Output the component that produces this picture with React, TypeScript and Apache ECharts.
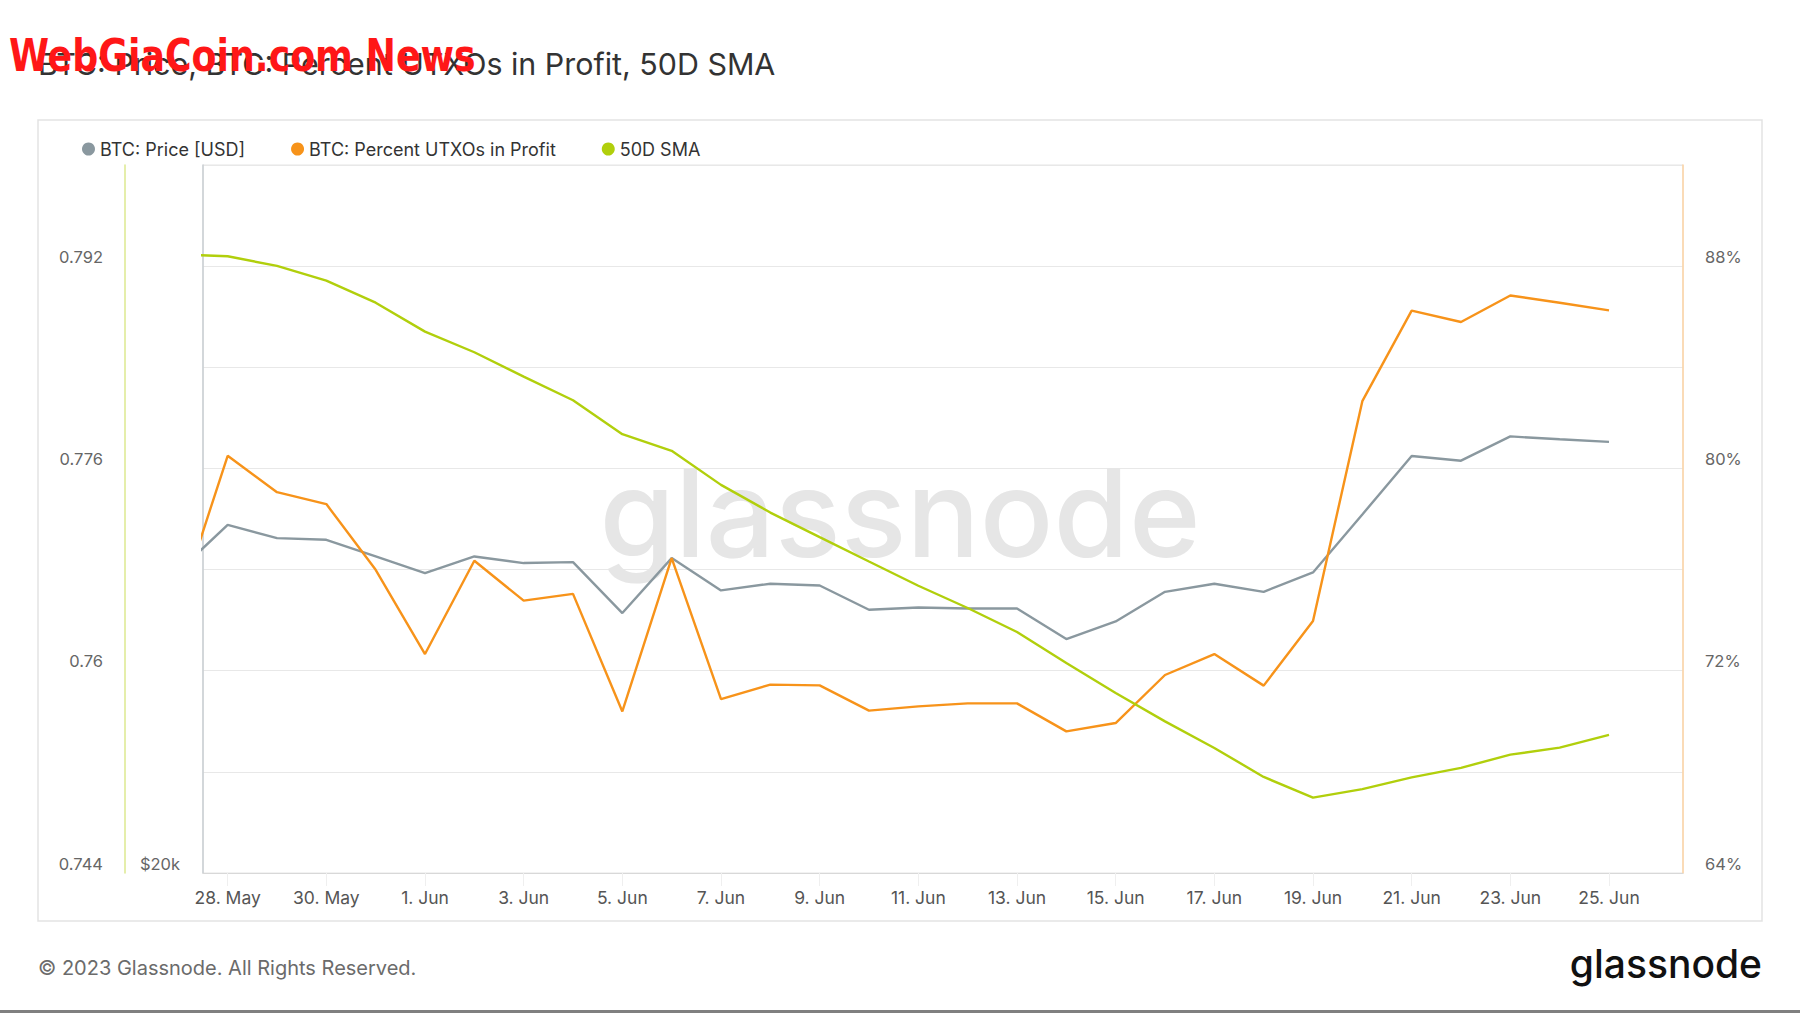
import React, { useEffect, useRef } from 'react';
import * as echarts from 'echarts';

// ---- data ----
const dates = [
  '2023-05-27', '2023-05-28', '2023-05-29', '2023-05-30', '2023-05-31',
  '2023-06-01', '2023-06-02', '2023-06-03', '2023-06-04', '2023-06-05',
  '2023-06-06', '2023-06-07', '2023-06-08', '2023-06-09', '2023-06-10',
  '2023-06-11', '2023-06-12', '2023-06-13', '2023-06-14', '2023-06-15',
  '2023-06-16', '2023-06-17', '2023-06-18', '2023-06-19', '2023-06-20',
  '2023-06-21', '2023-06-22', '2023-06-23', '2023-06-24', '2023-06-25',
];

const priceUsd = [
  26870, 28124, 27760, 27714, 27266,
  26826, 27266, 27090, 27116, 25796,
  27222, 26374, 26548, 26502, 25880,
  25938, 25912, 25912, 25148, 25586,
  26338, 26548, 26338, 26842, 28410,
  30082, 29946, 30666, 30580, 30504,
];

const percentInProfit = [
  74.52, 80.5, 79.06, 78.59, 75.99,
  72.66, 76.35, 74.77, 75.04, 70.39,
  76.45, 70.88, 71.45, 71.42, 70.42,
  70.59, 70.71, 70.71, 69.6, 69.93,
  71.83, 72.66, 71.41, 73.97, 82.66,
  86.24, 85.79, 86.84, 86.55, 86.25,
];

const sma50d = [
  0.79294, 0.79278, 0.79202, 0.79085, 0.78911,
  0.78682, 0.78519, 0.78326, 0.78139, 0.77871,
  0.77739, 0.7747, 0.77251, 0.77057, 0.76864,
  0.76672, 0.76496, 0.76306, 0.76061, 0.75824,
  0.75599, 0.75389, 0.7516, 0.74996, 0.75063,
  0.75156, 0.75232, 0.75336, 0.75392, 0.75493,
];

const xLabelDates = [
  '2023-05-28', '2023-05-30', '2023-06-01', '2023-06-03', '2023-06-05',
  '2023-06-07', '2023-06-09', '2023-06-11', '2023-06-13', '2023-06-15',
  '2023-06-17', '2023-06-19', '2023-06-21', '2023-06-23', '2023-06-25',
];
const xRange = ['2023-05-27T12:00:00Z', '2023-06-26T12:00:00Z'];
const monthNames = ['Jan', 'Feb', 'Mar', 'Apr', 'May', 'Jun', 'Jul', 'Aug', 'Sep', 'Oct', 'Nov', 'Dec'];

const seriesNames = ['BTC: Price [USD]', 'BTC: Percent UTXOs in Profit', '50D SMA'];
const seriesColors = ['#8a989f', '#f7931a', '#b1cf0c'];

const pctAxis = { min: 64, max: 92, step: 4, labelStep: 8 };
const smaAxis = { min: 0.744, max: 0.8, step: 0.008, labelStep: 0.016 };
const priceAxis = { min: 20000, max: 40000, label: '$20k' };

const titleText = 'BTC: Price, BTC: Percent UTXOs in Profit, 50D SMA';
const overlayText = 'WebGiaCoin.com News';
const footerText = '\u00A9 2023 Glassnode. All Rights Reserved.';
const brandText = 'glassnode';

const toTs = (d: string) => new Date(d.length > 10 ? d : d + 'T00:00:00Z').getTime();

const FONT = 'Inter, "Noto Sans", sans-serif';

export default function App() {
  const ref = useRef<HTMLDivElement>(null);

  useEffect(() => {
    document.body.style.margin = '0';
    if (!ref.current) return;
    const chart = echarts.init(ref.current, undefined, { renderer: 'svg' });

    const xs = dates.map(toTs);
    const labelTs = xLabelDates.map(toTs);

    const yLabelBase = {
      fontFamily: FONT,
      fontSize: 16.5,
      color: '#666666',
      verticalAlign: 'bottom',
      padding: [0, 0, 1, 0],
    };

    const option: any = {
      animation: false,
      backgroundColor: '#ffffff',
      textStyle: { fontFamily: FONT },
      legend: {
        left: 77,
        top: 135,
        icon: 'circle',
        itemWidth: 13,
        itemHeight: 13,
        itemGap: 46,
        textStyle: { fontFamily: FONT, fontSize: 18, color: '#333333' },
        data: seriesNames,
      },
      grid: {
        left: 203,
        right: 117,
        top: 165,
        bottom: 140,
        show: true,
        borderColor: '#e4e4e4',
        borderWidth: 1,
      },
      xAxis: {
        type: 'value',
        min: toTs(xRange[0]),
        max: toTs(xRange[1]),
        axisLine: { show: true, lineStyle: { color: '#d8d8d8', width: 1 } },
        axisTick: {
          show: true,
          customValues: labelTs,
          length: 13,
          lineStyle: { color: '#efefef' },
        },
        splitLine: { show: false },
        axisLabel: {
          customValues: labelTs,
          margin: 15,
          fontFamily: FONT,
          fontSize: 17.5,
          color: '#555555',
          formatter: (v: number) => {
            const d = new Date(v);
            return `${d.getUTCDate()}. ${monthNames[d.getUTCMonth()]}`;
          },
        },
      },
      yAxis: [
        {
          type: 'value',
          position: 'right',
          min: pctAxis.min,
          max: pctAxis.max,
          interval: pctAxis.step,
          axisLine: { show: true, lineStyle: { color: '#fdd3a3', width: 1.5 } },
          axisTick: { show: false },
          splitLine: { show: true, lineStyle: { color: '#e8e8e8', width: 1 } },
          axisLabel: {
            ...yLabelBase,
            margin: 22,
            formatter: (v: number) =>
              Math.round(v - pctAxis.min) % pctAxis.labelStep === 0 ? `${v}%` : '',
          },
        },
        {
          type: 'value',
          position: 'left',
          offset: 78,
          min: smaAxis.min,
          max: smaAxis.max,
          interval: smaAxis.step,
          axisLine: { show: true, lineStyle: { color: '#dde88f', width: 1.5 } },
          axisTick: { show: false },
          splitLine: { show: false },
          axisLabel: {
            ...yLabelBase,
            margin: 22,
            formatter: (v: number) => {
              const k = Math.round((v - smaAxis.min) / smaAxis.step);
              return k % Math.round(smaAxis.labelStep / smaAxis.step) === 0
                ? String(Number(v.toFixed(3)))
                : '';
            },
          },
        },
        {
          type: 'log',
          position: 'left',
          offset: 0,
          min: priceAxis.min,
          max: priceAxis.max,
          axisLine: { show: true, lineStyle: { color: '#c8ced2', width: 1.5 } },
          axisTick: { show: false },
          splitLine: { show: false },
          axisLabel: {
            ...yLabelBase,
            margin: 23,
            showMinLabel: true,
            showMaxLabel: false,
            formatter: (v: number) => (Math.abs(v - priceAxis.min) < 500 ? priceAxis.label : ''),
          },
        },
      ],
      series: [
        {
          name: seriesNames[0],
          type: 'line',
          yAxisIndex: 2,
          symbol: 'none',
          color: seriesColors[0],
          lineStyle: { width: 2.4, color: seriesColors[0] },
          data: xs.map((x, i) => [x, priceUsd[i]]),
          z: 3,
        },
        {
          name: seriesNames[1],
          type: 'line',
          yAxisIndex: 0,
          symbol: 'none',
          color: seriesColors[1],
          lineStyle: { width: 2.4, color: seriesColors[1] },
          data: xs.map((x, i) => [x, percentInProfit[i]]),
          z: 4,
        },
        {
          name: seriesNames[2],
          type: 'line',
          yAxisIndex: 1,
          symbol: 'none',
          color: seriesColors[2],
          lineStyle: { width: 2.4, color: seriesColors[2] },
          data: xs.map((x, i) => [x, sma50d[i]]),
          z: 5,
        },
      ],
      graphic: [
        {
          type: 'rect',
          z: -10,
          silent: true,
          shape: { x: 38, y: 120, width: 1724, height: 801 },
          style: { fill: 'none', stroke: '#e3e3e3', lineWidth: 1.5 },
        },
        {
          type: 'text',
          z: 1,
          silent: true,
          x: 900,
          y: 512,
          style: {
            text: brandText,
            fill: '#e6e6e6',
            fontFamily: FONT,
            fontSize: 122,
            fontWeight: 500,
            align: 'center',
            textAlign: 'center',
            verticalAlign: 'middle',
            textVerticalAlign: 'middle',
          },
        },
        {
          type: 'text',
          z: 10,
          silent: true,
          x: 38,
          y: 64,
          style: {
            text: titleText,
            fill: '#333333',
            fontFamily: FONT,
            fontSize: 30.4,
            align: 'left',
            textAlign: 'left',
            verticalAlign: 'middle',
            textVerticalAlign: 'middle',
          },
        },
        {
          type: 'text',
          z: 20,
          silent: true,
          x: 9,
          y: 55,
          scaleX: 0.897,
          style: {
            text: overlayText,
            fill: '#ff1717',
            fontFamily: '"DejaVu Sans Condensed", "DejaVu Sans", sans-serif',
            fontWeight: 'bold',
            fontSize: 45,
            align: 'left',
            textAlign: 'left',
            verticalAlign: 'middle',
            textVerticalAlign: 'middle',
          },
        },
        {
          type: 'text',
          z: 10,
          silent: true,
          x: 38,
          y: 968,
          style: {
            text: footerText,
            fill: '#6b6b6b',
            fontFamily: FONT,
            fontSize: 20,
            align: 'left',
            textAlign: 'left',
            verticalAlign: 'middle',
            textVerticalAlign: 'middle',
          },
        },
        {
          type: 'text',
          z: 10,
          silent: true,
          x: 1762,
          y: 963,
          style: {
            text: brandText,
            fill: '#111111',
            fontFamily: FONT,
            fontSize: 39,
            fontWeight: 500,
            align: 'right',
            textAlign: 'right',
            verticalAlign: 'middle',
            textVerticalAlign: 'middle',
          },
        },
        {
          type: 'rect',
          z: 10,
          silent: true,
          shape: { x: 0, y: 1010, width: 1800, height: 3 },
          style: { fill: '#808080' },
        },
      ],
    };

    chart.setOption(option);
    return () => chart.dispose();
  }, []);

  return <div ref={ref} style={{ width: 1800, height: 1013 }} />;
}
